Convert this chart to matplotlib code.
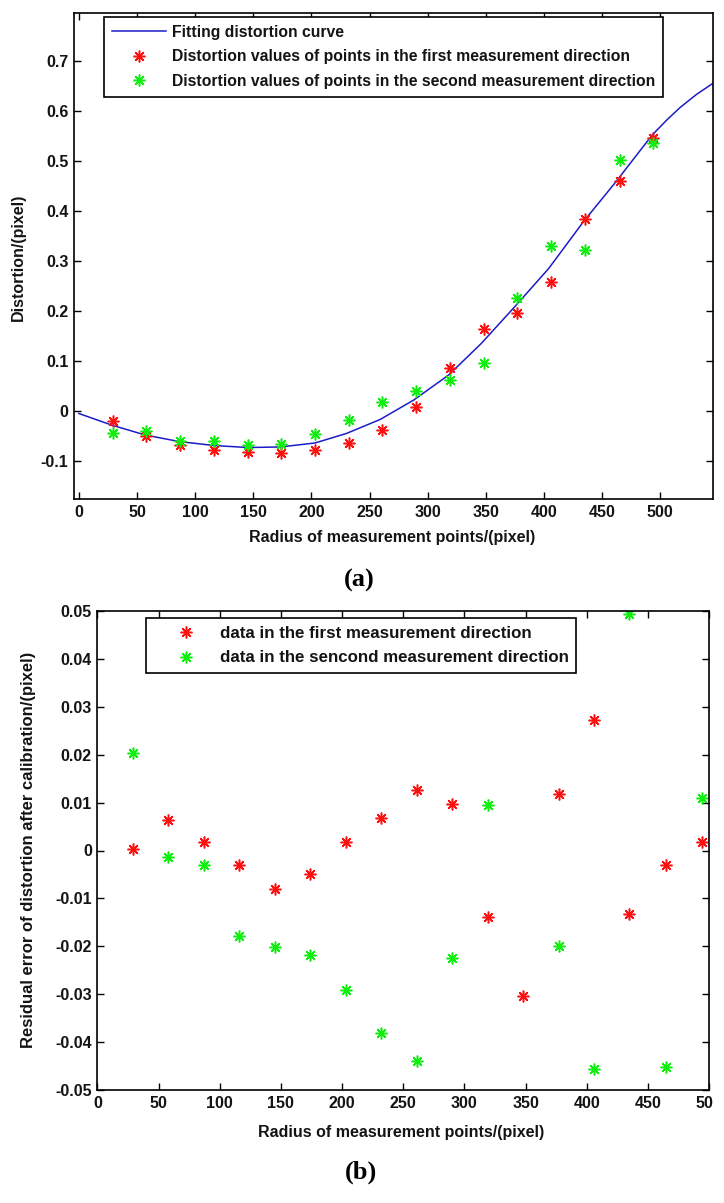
import matplotlib
matplotlib.use('Agg')
import matplotlib.pyplot as plt
from matplotlib.patches import Rectangle
import numpy as np

# radius of the measurement points (pixel)
radius = [29, 58, 87, 116, 145, 174, 203, 232, 261, 290, 319, 348, 377, 406, 435, 465, 494]

# (a) distortion values
dist_first = [-0.0205, -0.050, -0.067, -0.078, -0.081, -0.083, -0.078, -0.063, -0.037, 0.009,
              0.087, 0.165, 0.196, 0.259, 0.384, 0.460, 0.547]
dist_second = [-0.044, -0.040, -0.060, -0.060, -0.067, -0.065, -0.046, -0.018, 0.019, 0.040,
               0.062, 0.097, 0.227, 0.331, 0.322, 0.502, 0.536]

# fitted curve
curve_x = [0, 28, 57, 86, 116, 145, 173, 203, 230, 259, 288, 318, 346, 375, 404, 434, 462,
           493, 506, 517, 531, 545]
curve_y = [-0.005, -0.028, -0.048, -0.061, -0.069, -0.073, -0.072, -0.064, -0.045, -0.017,
           0.022, 0.072, 0.135, 0.209, 0.285, 0.379, 0.459, 0.552, 0.583, 0.607, 0.633, 0.655]

# (b) residual errors after calibration
res_first = [0.0003, 0.0064, 0.0017, -0.003, -0.008, -0.005, 0.0017, 0.0068, 0.0127, 0.0097,
             -0.0139, -0.0304, 0.0117, 0.0273, -0.0133, -0.003, 0.0017]
res_second = [0.0203, -0.0013, -0.003, -0.0178, -0.0201, -0.0219, -0.0292, -0.0381, -0.044, -0.0225,
              0.0094, np.nan, -0.020, -0.0457, 0.0494, -0.0451, 0.0109]

xticks = [0, 50, 100, 150, 200, 250, 300, 350, 400, 450, 500]
xtick_labels = ['0', '50', '100', '150', '200', '250', '300', '350', '400', '450', '500']
yticks_a = [-0.1, 0, 0.1, 0.2, 0.3, 0.4, 0.5, 0.6, 0.7]
ytick_labels_a = ['-0.1', '0', '0.1', '0.2', '0.3', '0.4', '0.5', '0.6', '0.7']
yticks_b = [-0.05, -0.04, -0.03, -0.02, -0.01, 0, 0.01, 0.02, 0.03, 0.04, 0.05]
ytick_labels_b = ['-0.05', '-0.04', '-0.03', '-0.02', '-0.01', '0', '0.01', '0.02', '0.03', '0.04', '0.05']

plt.rcParams['font.family'] = ['Liberation Sans', 'DejaVu Sans']
plt.rcParams['font.weight'] = 'bold'

W, H = 724, 1203
fig = plt.figure(figsize=(W / 100, H / 100), dpi=100)

def px_axes(l, t, r, b):
    return fig.add_axes([l / W, 1 - b / H, (r - l) / W, (b - t) / H])

RED = '#ff1010'
GREEN = '#10ee10'
BLUE = '#1c1cc8'
star = (8, 2, 0)
TXT = '#141414'

def style(ax):
    ax.tick_params(direction='in', length=5, width=1, top=True, right=True,
                   labelsize=11.5, pad=4, labelcolor=TXT)
    for s in ax.spines.values():
        s.set_linewidth(1.2)

def make_legend(ax, x0, y0, size, spacing, hlen, hpad, bpad):
    leg = ax.legend(loc='upper left', bbox_to_anchor=(x0, y0),
                    prop={'size': size, 'weight': 'bold'}, frameon=True, fancybox=False,
                    framealpha=1, edgecolor='black', handlelength=hlen, handletextpad=hpad,
                    labelspacing=spacing, borderpad=bpad, borderaxespad=0)
    leg.get_frame().set_linewidth(1.2)
    for t in leg.get_texts():
        t.set_color(TXT)
    return leg

# ---- (a)
ax1 = px_axes(74, 13, 713, 499)
ax1.plot(curve_x, curve_y, color=BLUE, lw=1.1, label='Fitting distortion curve')
ax1.plot(radius, dist_first, ls='none', marker=star, ms=8.5, mew=1.1, color=RED,
         label='Distortion values of points in the first measurement direction')
ax1.plot(radius, dist_second, ls='none', marker=star, ms=8.5, mew=1.1, color=GREEN,
         label='Distortion values of points in the second measurement direction')
ax1.set_xlim(-4.2, 545.3)
ax1.set_ylim(-0.176, 0.796)
ax1.set_xticks(xticks)
ax1.set_xticklabels(xtick_labels)
ax1.set_yticks(yticks_a)
ax1.set_yticklabels(ytick_labels_a)
style(ax1)
make_legend(ax1, (104 - 74) / 639, 1 - (17 - 13) / 486, 11.3, 0.6, 3.45, 0.38, 0.5)

fig.text(392 / W, 1 - 537 / H, 'Radius of measurement points/(pixel)', fontsize=11.5,
         ha='center', va='center', color=TXT)
fig.text(18.6 / W, 1 - 257 / H, 'Distortion/(pixel)', fontsize=11.5, rotation=90,
         ha='center', va='center', color=TXT)
fig.text(359 / W, 1 - 580 / H, '(a)', fontsize=19, fontweight='bold',
         family='Liberation Serif', ha='center', va='center')

# ---- (b)
ax2 = px_axes(97.4, 611, 709, 1090)
ax2.plot(radius, res_first, ls='none', marker=star, ms=8.5, mew=1.1, color=RED,
         label='data in the first measurement direction')
ax2.plot(radius, res_second, ls='none', marker=star, ms=8.5, mew=1.1, color=GREEN,
         label='data in the sencond measurement direction')
ax2.set_xlim(0, 500)
ax2.set_ylim(-0.05, 0.05)
ax2.set_xticks(xticks)
ax2.set_xticklabels(xtick_labels)
ax2.set_yticks(yticks_b)
ax2.set_yticklabels(ytick_labels_b)
style(ax2)
make_legend(ax2, (146 - 97.4) / 611.6, 1 - (618 - 611) / 479, 12.2, 0.58, 3.8, 0.1, 0.45)

# the last x label is cut by the picture edge in the original
clip = Rectangle((0, 0), 713 / W, 1, transform=fig.transFigure, visible=False)
fig.add_artist(clip)
lbl = ax2.get_xticklabels()[-1]
lbl.set_clip_on(True)
lbl.set_clip_path(clip)

fig.text(401 / W, 1 - 1132 / H, 'Radius of measurement points/(pixel)', fontsize=11.5,
         ha='center', va='center', color=TXT)
fig.text(29 / W, 1 - 850 / H, 'Residual error of distortion after calibration/(pixel)',
         fontsize=12, rotation=90, ha='center', va='center', color=TXT)
fig.text(361 / W, 1 - 1172 / H, '(b)', fontsize=19, fontweight='bold',
         family='Liberation Serif', ha='center', va='center')

fig.savefig('out.png', dpi=100)
